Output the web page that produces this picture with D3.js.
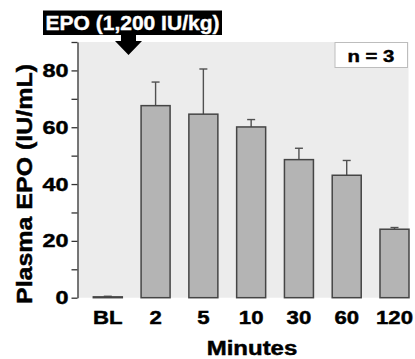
<!DOCTYPE html>
<html>
<head>
<meta charset="utf-8">
<script src="https://cdn.jsdelivr.net/npm/d3@7"></script>
<style>
  body { margin: 0; background: #fff; }
  text { font-family: "Liberation Sans", Arial, sans-serif; font-weight: bold; }
  text.heavy { stroke: #000; stroke-width: 0.45px; }
</style>
</head>
<body>
<div id="chart"></div>
<script>
// data
var categories = ["BL", "2", "5", "10", "30", "60", "120"];
var means = [0.3, 67.6, 64.6, 60.1, 48.6, 43.1, 24.1];
var errs = [0.2, 8.3, 15.9, 2.6, 4.0, 5.2, 0.6];
var yTicks = [0, 20, 40, 60, 80];
var yMinorTicks = [10, 30, 50, 70, 90];

var data = categories.map((c, i) => ({ cat: c, mean: means[i], err: errs[i] }));

var width = 415, height = 359;
var plot = { left: 77.5, right: 408.5, top: 42, bottom: 297.7 };
var stretch = 1.23; // the lettering in the figure is a bit wide

var svg = d3.select("#chart").append("svg")
    .attr("width", width)
    .attr("height", height);

// widen a text selection horizontally, keeping its anchor
const widen = (sel, k) => {
    sel.each(function () {
        var len = this.getComputedTextLength();
        d3.select(this).attr("textLength", len * k).attr("lengthAdjust", "spacingAndGlyphs");
    });
};

var x = d3.scaleBand()
    .domain(categories)
    .range([93.3, 409])
    .paddingInner(0.393)
    .paddingOuter(0);

var y = d3.scaleLinear()
    .domain([0, 90])
    .range([plot.bottom, plot.top]);

// plot background
svg.append("rect")
    .attr("x", plot.left)
    .attr("y", plot.top)
    .attr("width", plot.right - plot.left)
    .attr("height", plot.bottom - plot.top)
    .attr("fill", "#ececec");

// error bars (upper only)
var eb = svg.append("g").attr("stroke", "#505050").attr("stroke-width", 1.4);
eb.selectAll("line.v")
    .data(data)
    .enter().append("line")
    .attr("class", "v")
    .attr("x1", d => x(d.cat) + x.bandwidth() / 2)
    .attr("x2", d => x(d.cat) + x.bandwidth() / 2)
    .attr("y1", d => y(d.mean))
    .attr("y2", d => y(d.mean + d.err));
eb.selectAll("line.cap")
    .data(data)
    .enter().append("line")
    .attr("class", "cap")
    .attr("x1", d => x(d.cat) + x.bandwidth() / 2 - 4)
    .attr("x2", d => x(d.cat) + x.bandwidth() / 2 + 4)
    .attr("y1", d => y(d.mean + d.err))
    .attr("y2", d => y(d.mean + d.err));

// bars
svg.selectAll("rect.bar")
    .data(data)
    .enter().append("rect")
    .attr("class", "bar")
    .attr("x", d => x(d.cat))
    .attr("y", d => y(d.mean))
    .attr("width", x.bandwidth())
    .attr("height", d => y(0) - y(d.mean))
    .attr("fill", "#b4b4b4")
    .attr("stroke", "#454545")
    .attr("stroke-width", 1.5);

// y axis
var yAxis = svg.append("g")
    .attr("transform", "translate(" + plot.left + ",0)")
    .call(d3.axisLeft(y).tickValues(yTicks).tickSize(6).tickSizeOuter(0).tickPadding(3));
yAxis.select(".domain").attr("stroke", "#333").attr("stroke-width", 1.3);
yAxis.selectAll(".tick line").attr("stroke", "#333").attr("stroke-width", 1.3);
yAxis.selectAll("text").attr("font-size", 19).attr("fill", "#000").attr("class", "heavy")
    .style("font-family", "'Liberation Sans', Arial, sans-serif").style("font-weight", "bold")
    .call(widen, stretch);

svg.append("g")
    .attr("transform", "translate(" + plot.left + ",0)")
    .call(d3.axisLeft(y).tickValues(yMinorTicks).tickSize(6).tickFormat(""))
    .call(g => g.select(".domain").remove())
    .selectAll(".tick line").attr("stroke", "#333").attr("stroke-width", 1.3);

// x axis labels
var xAxis = svg.append("g")
    .attr("transform", "translate(0," + plot.bottom + ")")
    .call(d3.axisBottom(x).tickSize(0).tickPadding(14));
xAxis.select(".domain").remove();
xAxis.selectAll("text").attr("font-size", 18).attr("fill", "#000").attr("class", "heavy")
    .style("font-family", "'Liberation Sans', Arial, sans-serif").style("font-weight", "bold")
    .call(widen, stretch);

// axis titles
svg.append("text")
    .attr("class", "heavy")
    .attr("x", 252)
    .attr("y", 355)
    .attr("text-anchor", "middle")
    .attr("font-size", 19.5)
    .text("Minutes")
    .call(widen, stretch);

svg.append("text")
    .attr("class", "heavy")
    .attr("transform", "translate(32," + 184 + ") rotate(-90)")
    .attr("text-anchor", "middle")
    .attr("font-size", 22)
    .attr("textLength", 240)
    .attr("lengthAdjust", "spacingAndGlyphs")
    .text("Plasma EPO (IU/mL)");

// n = 3 box
svg.append("rect")
    .attr("x", 335).attr("y", 42.5)
    .attr("width", 72.5).attr("height", 25)
    .attr("fill", "#fff")
    .attr("stroke", "#bdbdbd")
    .attr("stroke-width", 1);
svg.append("text")
    .attr("class", "heavy")
    .attr("x", 371).attr("y", 61.5)
    .attr("text-anchor", "middle")
    .attr("font-size", 16.5)
    .text("n = 3")
    .call(widen, stretch);

// dose annotation with arrow
svg.append("rect")
    .attr("x", 43).attr("y", 10.5)
    .attr("width", 179).attr("height", 24.5)
    .attr("fill", "#000");
svg.append("text")
    .attr("x", 132.5).attr("y", 29.5)
    .attr("text-anchor", "middle")
    .attr("font-size", 20)
    .attr("fill", "#fff")
    .attr("stroke", "#fff")
    .attr("stroke-width", 0.4)
    .attr("textLength", 174)
    .attr("lengthAdjust", "spacingAndGlyphs")
    .text("EPO (1,200 IU/kg)");

var ax = 128.5;
svg.append("path")
    .attr("d", "M" + (ax - 7.5) + ",35 L" + (ax + 7.5) + ",35 L" + (ax + 7.5) + ",41 L" + (ax + 13.5) + ",41 L" +
        ax + ",55 L" + (ax - 13.5) + ",41 L" + (ax - 7.5) + ",41 Z")
    .attr("fill", "#000");
</script>
</body>
</html>
